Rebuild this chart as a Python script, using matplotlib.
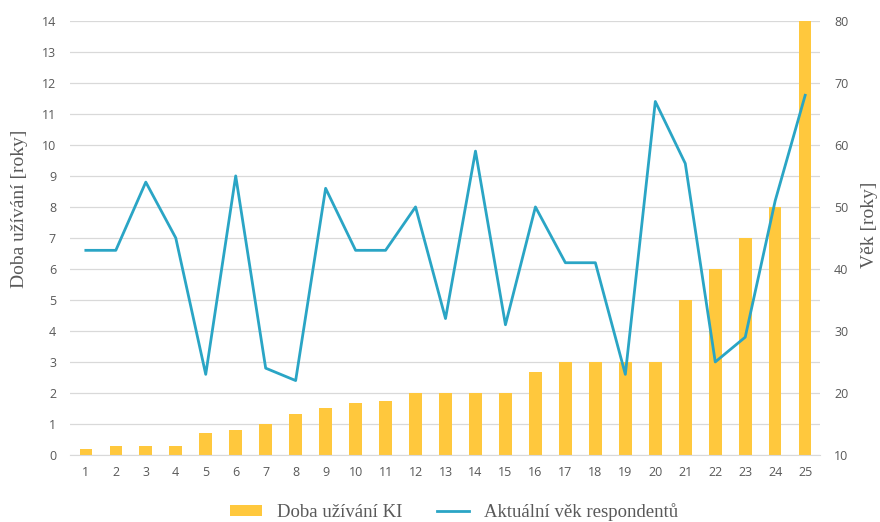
import matplotlib
matplotlib.use("Agg")
import matplotlib.pyplot as plt
import numpy as np

respondents = list(range(1, 26))
usage_years = [0.2, 0.3, 0.3, 0.3, 0.7, 0.8, 1.0, 1.33, 1.5, 1.67, 1.75, 2, 2, 2, 2,
               2.67, 3, 3, 3, 3, 5, 6, 7, 8, 14]
ages = [43, 43, 54, 45, 23, 55, 24, 22, 53, 43, 43, 50, 32, 59, 31,
        50, 41, 41, 23, 67, 57, 25, 29, 51, 68]
left_ticks = list(range(0, 15))
right_ticks = list(range(10, 81, 10))

bar_color = "#FFC83D"
line_color = "#2AA5C5"
tick_color = "#595959"
grid_color = "#D9D9D9"

W, H = 880, 522
fig = plt.figure(figsize=(8.8, 5.22), dpi=100)
ax = fig.add_axes([0.0795, 0.1284, 0.8525, 0.8316])
ax2 = ax.twinx()

ax.bar(respondents, usage_years, width=0.42, color=bar_color, zorder=2,
       label="Doba užívání KI")
ax2.plot(respondents, ages, color=line_color, lw=2.0, zorder=3,
         label="Aktuální věk respondentů")

ax.set_xlim(0.47, 25.5)
ax.set_ylim(0, 14)
ax2.set_ylim(10, 80)
ax.set_yticks(left_ticks)
ax2.set_yticks(right_ticks)
ax.set_xticks(respondents)

ax.grid(axis="y", color=grid_color, lw=0.9, zorder=0)
ax.set_axisbelow(True)
ax.set_zorder(1)
ax2.set_zorder(2)
ax.patch.set_visible(False)

for a in (ax, ax2):
    for s in a.spines.values():
        s.set_visible(False)
    a.tick_params(length=0, colors=tick_color, labelsize=9)
    for lbl in a.get_xticklabels() + a.get_yticklabels():
        lbl.set_fontfamily("Open Sans")
ax.tick_params(axis="x", pad=8)
ax.tick_params(axis="y", pad=10)
ax2.tick_params(axis="y", pad=10)
ax.spines["bottom"].set_visible(True)
ax.spines["bottom"].set_color(grid_color)

fig.text(19 / W, 1 - 209 / H, "Doba užívání [roky]", family="Liberation Serif",
         fontsize=14, color=tick_color, rotation=90, ha="center", va="center")
fig.text(869 / W, 1 - 225 / H, "Věk [roky]", family="Liberation Serif",
         fontsize=14, color=tick_color, rotation=90, ha="center", va="center")

h1, l1 = ax.get_legend_handles_labels()
h2, l2 = ax2.get_legend_handles_labels()
fig.legend(h1 + h2, l1 + l2, loc="center", bbox_to_anchor=(454 / W, 1 - 512 / H),
           ncol=2, frameon=False, prop={"family": "Liberation Serif", "size": 13.5},
           labelcolor=tick_color, handlelength=1.7, handleheight=0.5,
           handletextpad=0.8, columnspacing=1.85, borderpad=0)

fig.savefig("out.png", dpi=100)
